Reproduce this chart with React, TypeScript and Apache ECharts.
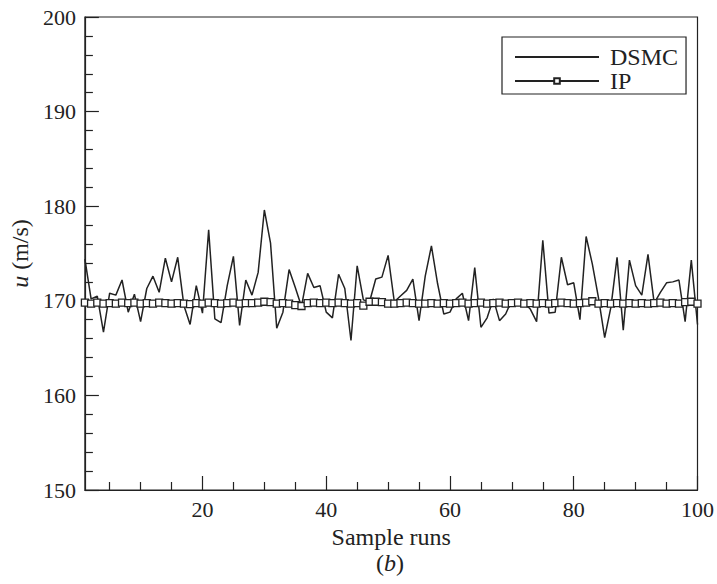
import { useEffect, useRef } from "react";
import * as echarts from "echarts";

const DSMC: number[] = [
  174.4, 170.2, 170.5, 166.7, 170.8, 170.6, 172.2, 168.8, 170.7, 167.8,
  171.3, 172.6, 170.9, 174.5, 172.0, 174.6, 169.5, 167.5, 171.6, 168.7,
  177.5, 168.1, 167.7, 171.6, 174.7, 167.4, 172.2, 170.6, 173.0, 179.6,
  176.1, 167.1, 168.8, 173.3, 171.4, 169.4, 172.9, 171.4, 171.6, 168.8,
  168.2, 172.8, 171.3, 165.8, 173.7, 170.1, 169.9, 172.3, 172.5, 174.8,
  169.9, 170.5, 171.1, 172.3, 167.9, 172.6, 175.8, 171.8, 168.6, 168.8,
  170.2, 170.8, 167.9, 173.5, 167.2, 168.2, 170.2, 167.9, 168.6, 170.1,
  169.9, 169.8, 169.1, 167.8, 176.4, 168.7, 168.8, 174.6, 171.7, 171.9,
  168.0, 176.8, 173.9, 170.3, 166.1, 169.3, 174.6, 166.9, 174.3, 171.6,
  170.6, 174.9, 169.75, 170.9, 171.9, 172.0, 172.2, 167.8, 174.3, 167.5,
];

const IP: number[] = [
  169.8, 169.7, 169.8, 169.7, 169.75, 169.7, 169.8, 169.75, 169.8, 169.7,
  169.75, 169.7, 169.8, 169.75, 169.7, 169.75, 169.7, 169.65, 169.75, 169.7,
  169.8, 169.75, 169.7, 169.75, 169.8, 169.7, 169.75, 169.75, 169.8, 169.9,
  169.85, 169.7, 169.75, 169.7, 169.55, 169.45, 169.75, 169.8, 169.75, 169.8,
  169.75, 169.8, 169.75, 169.7, 169.75, 169.5, 169.9, 169.9, 169.85, 169.7,
  169.7, 169.75, 169.8, 169.75, 169.7, 169.7, 169.75, 169.7, 169.75, 169.7,
  169.75, 169.8, 169.7, 169.75, 169.8, 169.7, 169.75, 169.8, 169.7, 169.75,
  169.8, 169.7, 169.75, 169.7, 169.75, 169.7, 169.75, 169.8, 169.75, 169.7,
  169.75, 169.8, 169.95, 169.7, 169.75, 169.7, 169.75, 169.7, 169.75, 169.7,
  169.75, 169.7, 169.75, 169.8, 169.7, 169.75, 169.7, 169.85, 169.9, 169.7,
];

const X_MAJOR: number[] = [20, 40, 60, 80, 100];
const X_MINOR: number[] = [5, 10, 15, 25, 30, 35, 45, 50, 55, 65, 70, 75, 85, 90, 95];

const SERIES_NAMES = ["DSMC", "IP"];

const FONT = "'Liberation Serif', 'Times New Roman', serif";
const INK = "#222";

export default function App() {
  const ref = useRef<HTMLDivElement>(null);

  useEffect(() => {
    if (!ref.current) return;
    const chart = echarts.init(ref.current, undefined, { renderer: "svg" });
    const dsmcData = DSMC.map((v, i) => [i + 1, v]);
    const ipData = IP.map((v, i) => [i + 1, v]);

    chart.setOption({
      animation: false,
      backgroundColor: "#fff",
      grid: {
        left: 82,
        right: 19,
        top: 17,
        bottom: 94,
        show: true,
        borderColor: INK,
        borderWidth: 1.2,
        backgroundColor: "transparent",
      },
      legend: {
        orient: "vertical",
        left: 502,
        top: 37,
        padding: [8, 8, 1, 12],
        itemWidth: 84,
        itemHeight: 7,
        itemGap: 0,
        borderColor: INK,
        borderWidth: 1.2,
        selectedMode: false,
        data: [
          { name: SERIES_NAMES[0], itemStyle: { opacity: 0 } },
          { name: SERIES_NAMES[1] },
        ],
        textStyle: {
          fontFamily: FONT,
          fontSize: 24,
          color: INK,
          lineHeight: 22,
          padding: [0, 0, 0, 6],
        },
      },
      xAxis: [
        {
          type: "value",
          min: 1,
          max: 100,
          position: "bottom",
          axisLine: { onZero: false, lineStyle: { color: INK, width: 1.2 } },
          axisTick: {
            inside: true,
            length: 14,
            customValues: X_MAJOR,
            lineStyle: { color: INK, width: 1.2 },
          },
          axisLabel: {
            customValues: X_MAJOR,
            fontFamily: FONT,
            fontSize: 22,
            color: INK,
            margin: 8,
          },
          splitLine: { show: false },
          name: "Sample runs",
          nameLocation: "middle",
          nameGap: 34,
          nameTextStyle: { fontFamily: FONT, fontSize: 24, color: INK },
        },
        {
          type: "value",
          min: 1,
          max: 100,
          position: "bottom",
          axisLine: { show: false, onZero: false },
          axisTick: {
            inside: true,
            length: 8,
            customValues: X_MINOR,
            lineStyle: { color: INK, width: 1.2 },
          },
          axisLabel: { show: false },
          splitLine: { show: false },
        },
      ],
      yAxis: {
        type: "value",
        min: 150,
        max: 200,
        interval: 10,
        axisLine: { onZero: false, lineStyle: { color: INK, width: 1.2 } },
        axisTick: { inside: true, length: 14, lineStyle: { color: INK, width: 1.2 } },
        minorTick: { show: true, splitNumber: 5, length: 8, lineStyle: { color: INK, width: 1.2 } },
        axisLabel: { fontFamily: FONT, fontSize: 22, color: INK, margin: 9 },
        splitLine: { show: false },
        minorSplitLine: { show: false },
        name: "{i|u} (m/s)",
        nameLocation: "middle",
        nameGap: 50,
        nameRotate: 90,
        nameTextStyle: {
          fontFamily: FONT,
          fontSize: 24,
          color: INK,
          rich: {
            i: { fontFamily: FONT, fontSize: 24, fontStyle: "italic", color: INK },
          },
        },
      },
      series: [
        {
          name: SERIES_NAMES[0],
          type: "line",
          data: dsmcData,
          symbol: "none",
          lineStyle: { color: INK, width: 1.5 },
          itemStyle: { color: INK },
        },
        {
          name: SERIES_NAMES[1],
          type: "line",
          data: ipData,
          symbol: "rect",
          symbolSize: 7,
          lineStyle: { color: INK, width: 1.5 },
          itemStyle: { color: "#fff", borderColor: INK, borderWidth: 1.3 },
        },
      ],
      graphic: [
        {
          type: "text",
          x: 390,
          y: 563,
          style: {
            text: "({i|b})",
            fontFamily: FONT,
            fontSize: 24,
            fill: INK,
            align: "center",
            verticalAlign: "middle",
            rich: {
              i: { fontFamily: FONT, fontSize: 24, fontStyle: "italic", fill: INK },
            },
          },
        },
      ],
    });

    return () => chart.dispose();
  }, []);

  return (
    <div
      ref={ref}
      style={{ position: "fixed", left: 0, top: 0, width: 717, height: 584 }}
    />
  );
}
